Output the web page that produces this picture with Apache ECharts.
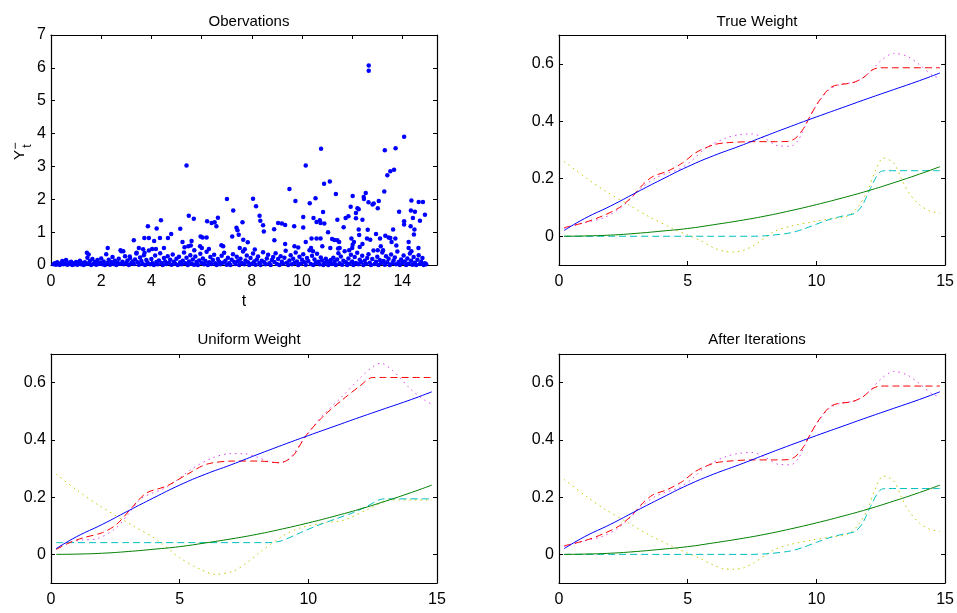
<!DOCTYPE html>
<html><head><meta charset="utf-8">
<script src="https://cdn.jsdelivr.net/npm/echarts@6/dist/echarts.min.js"></script>
<style>html,body{margin:0;padding:0;background:#fff}#c{width:957px;height:613px}</style>
</head><body><div id="c"></div>
<script>
// ---------- DATA ----------
const panelTitles = ['Obervations', 'True Weight', 'Uniform Weight', 'After Iterations'];
const obsXTicks = [0, 2, 4, 6, 8, 10, 12, 14];
const obsYTicks = [0, 1, 2, 3, 4, 5, 6, 7];
const wXTicks = [0, 5, 10, 15];
const wYTicks = [0, 0.2, 0.4, 0.6];

// observations: [t, Y]
const obsHigh = [[5.40,3.03],[12.66,6.07],[12.66,5.91],[14.07,3.90],[10.76,3.54],[13.73,3.55],[13.30,3.49],[10.15,3.03],[13.40,2.73],[13.52,2.85],[13.67,2.90],[11.11,2.54],[10.88,2.47],[9.50,2.31],[13.28,2.24],[11.35,2.16],[12.54,2.19],[12.46,2.07],[12.47,2.01],[12.02,2.10],[7.01,2.01],[8.05,2.02],[10.54,2.03],[14.36,1.96],[9.74,1.95],[12.65,1.91],[12.86,1.87],[12.81,1.84],[13.02,1.73],[13.06,1.95],[14.65,1.92],[14.82,1.92],[10.31,1.88],[11.94,1.77],[12.26,1.70],[12.21,1.73],[8.17,1.79],[13.87,1.62],[14.34,1.66],[14.50,1.62],[10.84,1.61],[12.15,1.58],[14.90,1.53],[5.49,1.50],[5.69,1.41],[7.26,1.66],[11.85,1.48],[11.74,1.43],[10.05,1.46],[8.31,1.50],[6.65,1.44],[14.42,1.43],[10.46,1.43],[4.38,1.36],[6.22,1.33],[6.40,1.28],[6.52,1.30],[8.34,1.35],[11.41,1.38],[12.15,1.42],[12.41,1.38],[14.70,1.35],[10.71,1.36],[10.58,1.31],[10.74,1.28],[10.89,1.26],[9.05,1.28],[9.20,1.26],[9.33,1.22],[7.63,1.30],[14.07,1.33],[14.07,1.23],[8.45,1.21],[6.59,1.18],[3.86,1.18],[9.69,1.18],[11.66,1.15],[10.05,1.14],[14.33,1.18],[4.21,1.11],[12.26,1.08],[7.39,1.13],[7.43,1.06],[8.48,1.02],[8.89,1.09],[5.15,1.10],[14.48,1.08],[13.63,1.08],[12.62,1.07],[11.04,1.00],[4.79,0.94],[12.95,0.94],[7.48,0.92],[12.28,0.91],[13.32,0.89],[13.45,0.84],[7.22,0.87],[5.96,0.87],[14.46,0.93],[4.66,0.82],[3.72,0.82],[3.90,0.82],[4.34,0.82],[6.04,0.84],[6.20,0.84],[12.59,0.81],[12.72,0.77],[13.11,0.81],[13.72,0.81],[10.38,0.81],[10.58,0.81],[10.74,0.81],[11.20,0.79],[11.29,0.76],[11.97,0.81],[7.66,0.77],[13.52,0.82],[11.41,0.75],[3.30,0.75],[8.90,0.75],[5.24,0.70],[5.60,0.73],[4.11,0.73],[10.15,0.70],[11.48,0.70],[12.07,0.70],[13.57,0.70],[14.25,0.70],[10.81,0.57],[7.84,0.69],[12.41,0.64],[12.30,0.55],[12.02,0.62],[9.33,0.64],[6.79,0.60],[6.86,0.57],[13.76,0.59],[9.70,0.57],[9.85,0.53],[5.94,0.57],[6.01,0.52],[13.14,0.57],[10.36,0.52],[11.13,0.52],[11.50,0.52],[14.25,0.52],[14.64,0.52],[5.57,0.59],[5.47,0.57],[11.44,0.50],[12.00,0.52],[5.32,0.54],[3.50,0.52],[3.67,0.48],[4.50,0.52],[4.03,0.49],[4.18,0.49],[7.52,0.52],[7.72,0.48],[2.26,0.52],[6.29,0.49],[5.71,0.45],[2.77,0.45],[2.88,0.42],[13.02,0.45],[13.23,0.45],[8.12,0.47],[10.44,0.42],[11.88,0.45],[14.36,0.42],[3.73,0.37],[3.41,0.37],[1.43,0.37],[1.50,0.32],[3.14,0.26]];
const obsLow = [[0.1,0.02],[0.15,0.05],[0.2,0.01],[0.25,0.08],[0.3,0.03],[0.35,0.0],[0.4,0.06],[0.45,0.12],[0.5,0.02],[0.55,0.04],[0.6,0.15],[0.65,0.01],[0.7,0.07],[0.75,0.03],[0.8,0.1],[0.85,0.0],[0.9,0.05],[0.95,0.02],[1.0,0.09],[1.05,0.01],[1.1,0.04],[1.15,0.13],[1.2,0.02],[1.25,0.06],[1.3,0.0],[1.35,0.08],[1.4,0.03],[1.45,0.22],[1.5,0.05],
[1.55,0.12],[1.6,0.0],[1.65,0.18],[1.7,0.04],[1.75,0.09],[1.8,0.01],[1.85,0.15],[1.9,0.03],[1.95,0.07],[2.0,0.2],[2.05,0.02],[2.1,0.11],[2.15,0.0],[2.2,0.33],[2.25,0.06],[2.3,0.16],[2.35,0.01],[2.4,0.09],[2.45,0.24],[2.5,0.03],[2.55,0.13],[2.6,0.0],[2.65,0.07],[2.7,0.19],[2.75,0.04],[2.8,0.42],[2.85,0.1],[2.9,0.02],[2.95,0.27],[3.0,0.06],[3.05,0.14],[3.1,0.0],[3.15,0.21],[3.2,0.05],[3.25,0.11],[3.3,0.03],[3.35,0.17],[3.4,0.35],[3.45,0.08],[3.5,0.01],[3.55,0.23],[3.6,0.12],[3.65,0.04],[3.7,0.3],[3.75,0.0],[3.8,0.15],[3.85,0.07],[3.9,0.44],[3.95,0.02],
[4.0,0.18],[4.05,0.05],[4.1,0.0],[4.15,0.29],[4.2,0.09],[4.25,0.02],[4.3,0.14],[4.35,0.36],[4.4,0.06],[4.45,0.0],[4.5,0.21],[4.55,0.11],[4.6,0.03],[4.65,0.27],[4.7,0.07],[4.75,0.16],[4.8,0.01],[4.85,0.32],[4.9,0.1],[4.95,0.04],[5.0,0.19],[5.05,0.0],[5.1,0.25],[5.15,0.08],[5.2,0.02],[5.25,0.13],[5.3,0.38],[5.35,0.05],[5.4,0.22],[5.45,0.0],[5.5,0.11],[5.55,0.3],[5.6,0.04],[5.65,0.17],[5.7,0.01],[5.75,0.26],[5.8,0.09],[5.85,0.0],[5.9,0.14],[5.95,0.34],[6.0,0.06],[6.05,0.2],[6.1,0.02],[6.15,0.12],[6.2,0.4],[6.25,0.0],[6.3,0.08],[6.35,0.24],[6.4,0.03],[6.45,0.15],[6.5,0.31],[6.55,0.05],[6.6,0.0],[6.65,0.18],[6.7,0.1],[6.75,0.02],[6.8,0.28],[6.85,0.07],[6.9,0.37],[6.95,0.13],[7.0,0.01],[7.05,0.22],[7.1,0.05],[7.15,0.0],[7.2,0.16],[7.25,0.33],[7.3,0.09],[7.35,0.03],[7.4,0.25],[7.45,0.12],[7.5,0.0],[7.55,0.19],[7.6,0.06],[7.65,0.41],[7.7,0.02],[7.75,0.14],[7.8,0.29],[7.85,0.08],[7.9,0.0],[7.95,0.21],
[8.0,0.04],[8.05,0.35],[8.1,0.11],[8.15,0.01],[8.2,0.17],[8.25,0.26],[8.3,0.06],[8.35,0.0],[8.4,0.13],[8.45,0.39],[8.5,0.08],[8.55,0.02],[8.6,0.2],[8.65,0.31],[8.7,0.05],[8.75,0.0],[8.8,0.15],[8.85,0.24],[8.9,0.09],[8.95,0.36],[9.0,0.03],[9.05,0.18],[9.1,0.0],[9.15,0.27],[9.2,0.1],[9.25,0.04],[9.3,0.22],[9.35,0.43],[9.4,0.07],[9.45,0.0],[9.5,0.14],[9.55,0.3],[9.6,0.02],[9.65,0.19],[9.7,0.06],[9.75,0.38],[9.8,0.11],[9.85,0.0],[9.9,0.25],[9.95,0.04],[10.0,0.16],[10.05,0.33],[10.1,0.08],[10.15,0.01],[10.2,0.21],[10.25,0.12],[10.3,0.45],[10.35,0.03],[10.4,0.28],[10.45,0.0],[10.5,0.17],[10.55,0.06],[10.6,0.34],[10.65,0.1],[10.7,0.02],[10.75,0.23],[10.8,0.14],[10.85,0.0],[10.9,0.05],[10.95,0.19],[11.0,0.12],[11.05,0.0],[11.1,0.07],[11.15,0.15],[11.2,0.03],[11.25,0.22],[11.3,0.09],[11.35,0.0],[11.4,0.17],[11.45,0.36],[11.5,0.05],[11.55,0.26],[11.6,0.01],[11.65,0.13],[11.7,0.42],[11.75,0.08],[11.8,0.0],[11.85,0.2],[11.9,0.04],[11.95,0.31],
[12.0,0.11],[12.05,0.0],[12.1,0.24],[12.15,0.06],[12.2,0.37],[12.25,0.02],[12.3,0.16],[12.35,0.09],[12.4,0.28],[12.45,0.0],[12.5,0.13],[12.55,0.04],[12.6,0.21],[12.65,0.33],[12.7,0.07],[12.75,0.0],[12.8,0.18],[12.85,0.44],[12.9,0.03],[12.95,0.1],[13.0,0.25],[13.05,0.0],[13.1,0.15],[13.15,0.06],[13.2,0.38],[13.25,0.12],[13.3,0.01],[13.35,0.27],[13.4,0.08],[13.45,0.19],[13.5,0.0],[13.55,0.32],[13.6,0.05],[13.65,0.14],[13.7,0.23],[13.75,0.02],[13.8,0.41],[13.85,0.09],[13.9,0.0],[13.95,0.17],[14.0,0.06],[14.05,0.29],[14.1,0.11],[14.15,0.0],[14.2,0.2],[14.25,0.04],[14.3,0.35],[14.35,0.13],[14.4,0.01],[14.45,0.24],[14.5,0.07],[14.55,0.0],[14.6,0.16],[14.65,0.3],[14.7,0.03],[14.75,0.1],[14.8,0.21],[14.85,0.0],[14.9,0.05],[14.95,0.02]];

// common curves (blue solid, green solid)
const blueCurve = [[0.2,0.02],[1,0.062],[2,0.105],[3,0.152],[4,0.198],[5,0.242],[6,0.28],[7,0.313],[8,0.348],[9,0.382],[10,0.415],[11,0.447],[12,0.479],[13,0.51],[14,0.541],[14.8,0.568]];
const greenCurve = [[0.2,0],[1,0.001],[2,0.004],[3,0.01],[4,0.018],[5,0.027],[6,0.04],[7,0.054],[8,0.07],[9,0.089],[10,0.11],[11,0.133],[12,0.158],[13,0.186],[14,0.216],[14.8,0.242]];

// True Weight
const trueRed = [[0.2,0.03],[1,0.048],[1.7,0.071],[2.35,0.1],[2.85,0.138],[3.25,0.179],[3.65,0.208],[4.2,0.226],[4.8,0.255],[5.3,0.29],[6.0,0.318],[6.5,0.325],[7.5,0.329],[8.4,0.329],[8.9,0.33],[9.2,0.342],[9.5,0.375],[9.75,0.417],[10.1,0.47],[10.6,0.52],[11.4,0.534],[11.8,0.55],[12.2,0.58],[12.5,0.586],[13,0.586],[14.8,0.586]];
const trueMagenta = [[0.2,0.027],[0.9,0.045],[1.7,0.063],[2.3,0.092],[2.8,0.132],[3.2,0.168],[3.8,0.205],[4.7,0.235],[5.2,0.266],[5.7,0.307],[6.5,0.342],[7.0,0.353],[7.5,0.356],[8.0,0.34],[8.5,0.315],[9.0,0.313],[9.3,0.335],[9.6,0.39],[10.0,0.455],[10.5,0.51],[11.0,0.53],[11.5,0.536],[12.0,0.565],[12.5,0.61],[13.0,0.636],[13.5,0.627],[14.0,0.597],[14.5,0.56],[14.8,0.55]];
const trueCyan = [[0.2,0],[2,0],[4,0],[6,0],[7.5,0],[8.2,0.003],[9.0,0.012],[9.5,0.025],[10.0,0.042],[10.5,0.058],[11.0,0.07],[11.5,0.08],[11.8,0.11],[12.1,0.167],[12.5,0.225],[12.8,0.228],[14.8,0.228]];
const trueYellow = [[0.2,0.26],[1.1,0.2],[1.8,0.157],[2.7,0.11],[3.5,0.068],[4.4,0.028],[5.0,0.004],[5.5,-0.015],[6.0,-0.04],[6.4,-0.052],[6.8,-0.055],[7.2,-0.048],[7.6,-0.03],[8.0,-0.005],[8.4,0.018],[9.0,0.035],[9.9,0.051],[10.5,0.06],[11.2,0.07],[11.6,0.1],[12.0,0.16],[12.3,0.23],[12.6,0.272],[13.0,0.255],[13.3,0.2],[13.6,0.15],[14.0,0.11],[14.4,0.088],[14.8,0.08]];

// Uniform Weight
const uniRed = [[0.2,0.017],[0.7,0.04],[1.25,0.058],[2.0,0.076],[2.55,0.105],[3.2,0.169],[3.7,0.214],[4.5,0.239],[5.3,0.28],[6.05,0.315],[7.1,0.326],[8.1,0.326],[8.9,0.32],[9.4,0.344],[9.9,0.414],[10.6,0.484],[11.35,0.542],[12.0,0.588],[12.5,0.618],[13,0.618],[14.8,0.618]];
const uniMagenta = [[0.2,0.02],[0.6,0.04],[1.2,0.05],[1.8,0.055],[2.5,0.09],[3.0,0.14],[3.5,0.195],[4.5,0.235],[5.5,0.3],[6.3,0.338],[7.0,0.352],[7.5,0.352],[8.0,0.34],[8.7,0.32],[9.2,0.33],[9.8,0.4],[10.5,0.48],[11.3,0.55],[12.0,0.615],[12.5,0.655],[12.8,0.668],[13.3,0.64],[14.0,0.575],[14.5,0.54],[14.8,0.524]];
const uniCyan = [[0.2,0.041],[3,0.041],[6,0.041],[8.3,0.041],[8.9,0.046],[9.7,0.076],[10.3,0.099],[11.0,0.122],[11.75,0.146],[12.3,0.169],[12.8,0.192],[13.1,0.194],[14.8,0.194]];
const uniYellow = [[0.2,0.28],[1.0,0.225],[1.9,0.169],[3.2,0.099],[4.1,0.052],[5.0,-0.012],[5.8,-0.052],[6.4,-0.07],[7.1,-0.058],[7.6,-0.03],[8.1,0.006],[9.0,0.064],[9.7,0.093],[10.7,0.111],[11.4,0.12],[12.3,0.157],[13.0,0.186],[13.5,0.19],[14.8,0.19]];

// After Iterations
const aftRed = [[0.2,0.03],[1,0.048],[1.7,0.071],[2.35,0.1],[2.85,0.138],[3.25,0.179],[3.65,0.208],[4.2,0.226],[4.8,0.255],[5.3,0.29],[6.0,0.318],[6.5,0.325],[7.5,0.33],[8.4,0.33],[8.9,0.331],[9.2,0.343],[9.5,0.376],[9.75,0.418],[10.1,0.47],[10.6,0.52],[11.4,0.534],[11.8,0.55],[12.2,0.58],[12.5,0.588],[13,0.588],[14.8,0.588]];
const aftMagenta = [[0.2,0.027],[0.9,0.045],[1.7,0.063],[2.3,0.092],[2.8,0.132],[3.2,0.168],[3.8,0.205],[4.7,0.235],[5.2,0.266],[5.7,0.307],[6.5,0.342],[7.0,0.353],[7.5,0.356],[8.0,0.34],[8.5,0.315],[9.0,0.313],[9.3,0.335],[9.6,0.39],[10.0,0.455],[10.5,0.51],[11.0,0.53],[11.5,0.536],[12.0,0.565],[12.5,0.612],[13.0,0.639],[13.5,0.628],[14.0,0.597],[14.5,0.56],[14.8,0.55]];
const aftCyan = [[0.2,0],[2,0],[4,0],[6,0],[7.5,0],[8.2,0.003],[9.0,0.012],[9.5,0.025],[10.0,0.042],[10.5,0.058],[11.0,0.07],[11.5,0.08],[11.8,0.11],[12.1,0.167],[12.5,0.226],[12.8,0.23],[14.8,0.23]];
const aftYellow = [[0.2,0.262],[1.1,0.2],[1.8,0.157],[2.7,0.11],[3.5,0.068],[4.4,0.028],[5.0,0.004],[5.5,-0.015],[6.0,-0.038],[6.4,-0.05],[6.8,-0.052],[7.2,-0.046],[7.6,-0.028],[8.0,-0.004],[8.4,0.018],[9.0,0.035],[9.9,0.051],[10.5,0.06],[11.2,0.07],[11.6,0.1],[12.0,0.16],[12.3,0.232],[12.6,0.274],[13.0,0.257],[13.3,0.2],[13.6,0.15],[14.0,0.11],[14.4,0.088],[14.8,0.08]];

// ---------- CHART ----------
const FF = "'Liberation Sans',Arial,sans-serif";
const TICK_FS = 16;
const grids = [
  {left: 51, top: 35, width: 386, height: 230},
  {left: 559, top: 35, width: 387, height: 230},
  {left: 51, top: 354, width: 386, height: 229},
  {left: 559, top: 354, width: 387, height: 229}
];
const xRanges = [[0, 15.38], [0, 15], [0, 15], [0, 15]];
const yRanges = [[0, 7], [-0.1, 0.7], [-0.1, 0.7], [-0.1, 0.7]];
const xTickSets = [obsXTicks, wXTicks, wXTicks, wXTicks];
const yTickSets = [obsYTicks, wYTicks, wYTicks, wYTicks];

const xAxes = [], yAxes = [];
grids.forEach((g, i) => {
  const base = {
    type: 'value', gridIndex: i, scale: false,
    axisLine: {show: true, onZero: false, lineStyle: {color: '#000', width: 1.2}},
    splitLine: {show: false}
  };
  const tick = vals => ({show: true, inside: true, length: 4, customValues: vals, lineStyle: {color: '#000'}});
  xAxes.push(Object.assign({}, base, {
    position: 'bottom', min: xRanges[i][0], max: xRanges[i][1], axisTick: tick(xTickSets[i]),
    axisLabel: {show: true, customValues: xTickSets[i], color: '#000', fontSize: TICK_FS, fontFamily: FF, margin: 9}
  }));
  xAxes.push(Object.assign({}, base, {
    position: 'top', min: xRanges[i][0], max: xRanges[i][1], axisTick: tick(xTickSets[i]), axisLabel: {show: false}
  }));
  yAxes.push(Object.assign({}, base, {
    position: 'left', min: yRanges[i][0], max: yRanges[i][1], axisTick: tick(yTickSets[i]),
    axisLabel: {show: true, customValues: yTickSets[i], color: '#000', fontSize: TICK_FS, fontFamily: FF, margin: 5}
  }));
  yAxes.push(Object.assign({}, base, {
    position: 'right', min: yRanges[i][0], max: yRanges[i][1], axisTick: tick(yTickSets[i]), axisLabel: {show: false}
  }));
});

function lineSeries(gi, data, color, dash, sm) {
  return {
    type: 'line', xAxisIndex: gi * 2, yAxisIndex: gi * 2, data: data,
    showSymbol: false, symbol: 'none', smooth: sm,
    lineStyle: {color: color, width: 1, type: dash}, silent: true, z: 3
  };
}
const C = {blue: '#0000ff', green: '#008000', red: '#ff0000', cyan: '#00bfbf', magenta: '#dd44ee', yellow: '#c8c800'};
const DASH = [7, 4];
const DOT = [1.5, 4];

const series = [{
  type: 'scatter', xAxisIndex: 0, yAxisIndex: 0,
  data: obsLow.concat(obsHigh), symbol: 'circle', symbolSize: 4.5,
  itemStyle: {color: '#0000ff', opacity: 1}, silent: true
}];
const panels = [
  [1, trueRed, trueMagenta, trueCyan, trueYellow],
  [2, uniRed, uniMagenta, uniCyan, uniYellow],
  [3, aftRed, aftMagenta, aftCyan, aftYellow]
];
panels.forEach(p => {
  const gi = p[0];
  series.push(lineSeries(gi, p[2], C.magenta, DOT, 0.3));
  series.push(lineSeries(gi, p[4], C.yellow, DOT, 0.3));
  series.push(lineSeries(gi, p[3], C.cyan, DASH, 0.3));
  series.push(lineSeries(gi, p[1], C.red, DASH, 0.3));
  series.push(lineSeries(gi, greenCurve, C.green, 'solid', 0.5));
  series.push(lineSeries(gi, blueCurve, C.blue, 'solid', 0.5));
});

const titleCenters = [[244, 9], [752, 9], [244, 327], [752, 327]];
const titles = panelTitles.map((t, i) => ({
  text: t, left: titleCenters[i][0], top: titleCenters[i][1], textAlign: 'center',
  textStyle: {fontSize: 15, fontWeight: 'normal', color: '#000', fontFamily: FF}
}));

const chart = echarts.init(document.getElementById('c'), null, {renderer: 'canvas'});
chart.setOption({
  animation: false,
  backgroundColor: '#fff',
  title: titles,
  grid: grids.map(g => Object.assign({containLabel: false, show: false}, g)),
  xAxis: xAxes,
  yAxis: yAxes,
  series: series,
  graphic: [
    {type: 'text', x: 244, y: 302, style: {text: 't', fontSize: 16, fontFamily: FF, fill: '#000', align: 'center', verticalAlign: 'middle'}},
    {type: 'text', x: 20, y: 155, rotation: Math.PI / 2, style: {text: 'Y', fontSize: 15, fontFamily: FF, fill: '#000', align: 'center', verticalAlign: 'middle'}},
    {type: 'text', x: 28, y: 146, rotation: Math.PI / 2, style: {text: 't', fontSize: 12, fontFamily: FF, fill: '#000', align: 'center', verticalAlign: 'middle'}},
    {type: 'text', x: 16, y: 146, rotation: Math.PI / 2, style: {text: '\u2212', fontSize: 12, fontFamily: FF, fill: '#000', align: 'center', verticalAlign: 'middle'}}
  ]
});
</script></body></html>
